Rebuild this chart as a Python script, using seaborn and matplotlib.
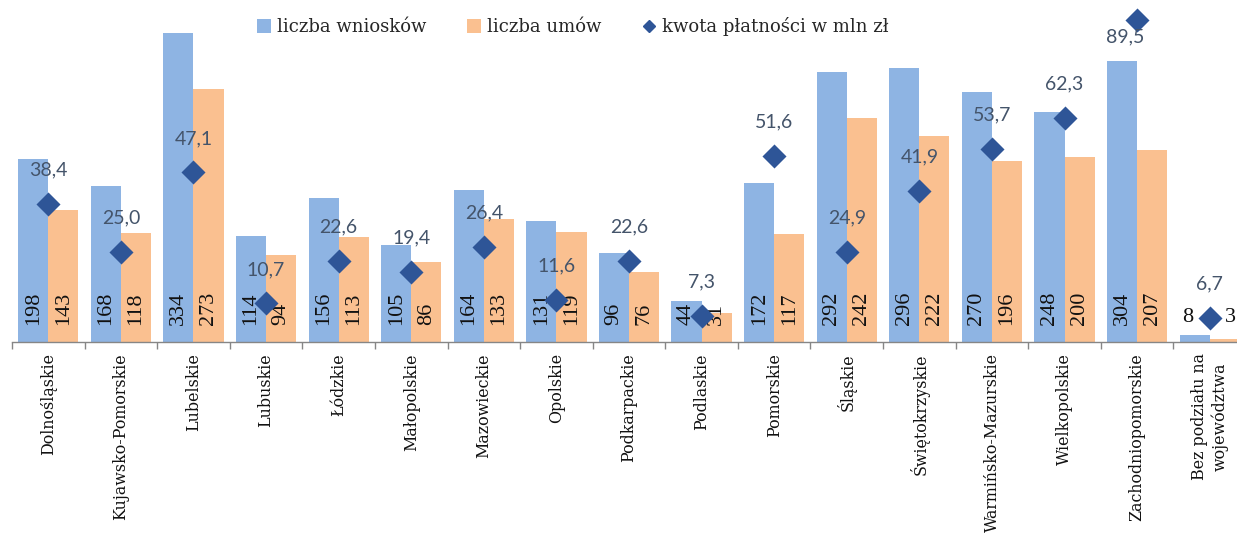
import numpy as np
import pandas as pd
import matplotlib
matplotlib.use("Agg")
import matplotlib.pyplot as plt
import seaborn as sns
from matplotlib.patches import Patch
from matplotlib.lines import Line2D

wojewodztwa = [
    "Dolnośląskie", "Kujawsko-Pomorskie", "Lubelskie", "Lubuskie", "Łódzkie",
    "Małopolskie", "Mazowieckie", "Opolskie", "Podkarpackie", "Podlaskie",
    "Pomorskie", "Śląskie", "Świętokrzyskie", "Warmińsko-Mazurskie",
    "Wielkopolskie", "Zachodniopomorskie", "Bez podziału na\nwojewództwa",
]
liczba_wnioskow = [198, 168, 334, 114, 156, 105, 164, 131, 96, 44, 172, 292, 296, 270, 248, 304, 8]
liczba_umow = [143, 118, 273, 94, 113, 86, 133, 119, 76, 31, 117, 242, 222, 196, 200, 207, 3]
kwota_platnosci = [38.4, 25.0, 47.1, 10.7, 22.6, 19.4, 26.4, 11.6, 22.6, 7.3,
                   51.6, 24.9, 41.9, 53.7, 62.3, 89.5, 6.7]

serie = ["liczba wniosków", "liczba umów", "kwota płatności w mln zł"]
kolor_wnioski = "#8EB4E3"
kolor_umowy = "#FAC090"
kolor_kwota = "#2E5597"
kolor_etykiet_kwoty = "#44546A"

sns.set_theme(style="white")
plt.rcParams["font.family"] = ["DejaVu Serif"]

W, H = 1237, 535
fig = plt.figure(figsize=(W / 100, H / 100), dpi=100)
ax = fig.add_axes([12 / W, 193 / H, 1234 / W, 324 / H])

n = len(wojewodztwa)
df = pd.DataFrame({
    "woj": wojewodztwa * 2,
    "wartosc": liczba_wnioskow + liczba_umow,
    "seria": [serie[0]] * n + [serie[1]] * n,
})
sns.barplot(data=df, x="woj", y="wartosc", hue="seria", order=wojewodztwa,
            hue_order=serie[:2], palette=[kolor_wnioski, kolor_umowy],
            width=0.83, gap=0, saturation=1, errorbar=None, legend=False,
            linewidth=0, ax=ax)
ax.set_ylim(0, 350)
ax.set_xlim(-0.5, n - 0.5)

# value labels on the bars: rotated at the base, horizontal for tiny bars
for ci, cont in enumerate(ax.containers):
    vals = liczba_wnioskow if ci == 0 else liczba_umow
    for rect, v in zip(cont.patches, vals):
        xc = rect.get_x() + rect.get_width() / 2
        if v >= 20:
            ax.annotate(str(v), (xc, 0), xytext=(0, 17), textcoords="offset pixels",
                        rotation=90, ha="center", va="bottom", fontsize=16,
                        color="#111111", family="Liberation Serif")
        else:
            dx = -7 if ci == 0 else 6
            ax.annotate(str(v), (xc, 0), xytext=(dx, 25), textcoords="offset pixels",
                        ha="center", va="center", fontsize=16,
                        color="#111111", family="Liberation Serif")

# secondary axis: payment amounts
ax2 = ax.twinx()
sns.scatterplot(x=np.arange(n), y=kwota_platnosci, marker="D", s=150,
                color=kolor_kwota, linewidth=0, ax=ax2, zorder=3, legend=False)
for coll in ax2.collections:
    coll.set_clip_on(False)
ax2.set_ylim(0, 90)
ax2.set_xlim(-0.5, n - 0.5)
for i, v in enumerate(kwota_platnosci):
    off = (0, 34) if v < 80 else (-12, -17)
    ax2.annotate(f"{v:.1f}".replace(".", ","), (i, v), xytext=off,
                 textcoords="offset pixels", ha="center", va="center",
                 fontsize=14, color=kolor_etykiet_kwoty, family="Lato")

for a in (ax, ax2):
    a.set_ylabel("")
    a.set_yticks([])
    for s in ("left", "right", "top", "bottom"):
        a.spines[s].set_visible(False)
ax.spines["bottom"].set_visible(True)
ax.spines["bottom"].set_color("#868686")
ax.spines["bottom"].set_linewidth(1)

ax.set_xlabel("")
ax.set_xticks(np.arange(n))
ax.set_xticklabels(wojewodztwa, rotation=90, fontsize=11.4, va="top", ha="center")
ax.set_xticks(np.arange(n + 1) - 0.5, minor=True)
ax.tick_params(axis="x", which="major", length=0, pad=8, colors="#111111")
ax.tick_params(axis="x", which="minor", length=5, width=1, color="#868686",
               direction="out", bottom=True)

handles = [
    Patch(facecolor=kolor_wnioski, edgecolor="none"),
    Patch(facecolor=kolor_umowy, edgecolor="none"),
    Line2D([], [], marker="D", color=kolor_kwota, linestyle="none", markersize=6),
]
fig.legend(handles, serie, loc="center left", bbox_to_anchor=(257 / W, 1 - 27 / H),
           ncol=3, frameon=False, fontsize=13, handlelength=0.8, handleheight=0.8,
           handletextpad=0.3, columnspacing=2.25, borderaxespad=0, borderpad=0)

fig.savefig("out.png", dpi=100)
